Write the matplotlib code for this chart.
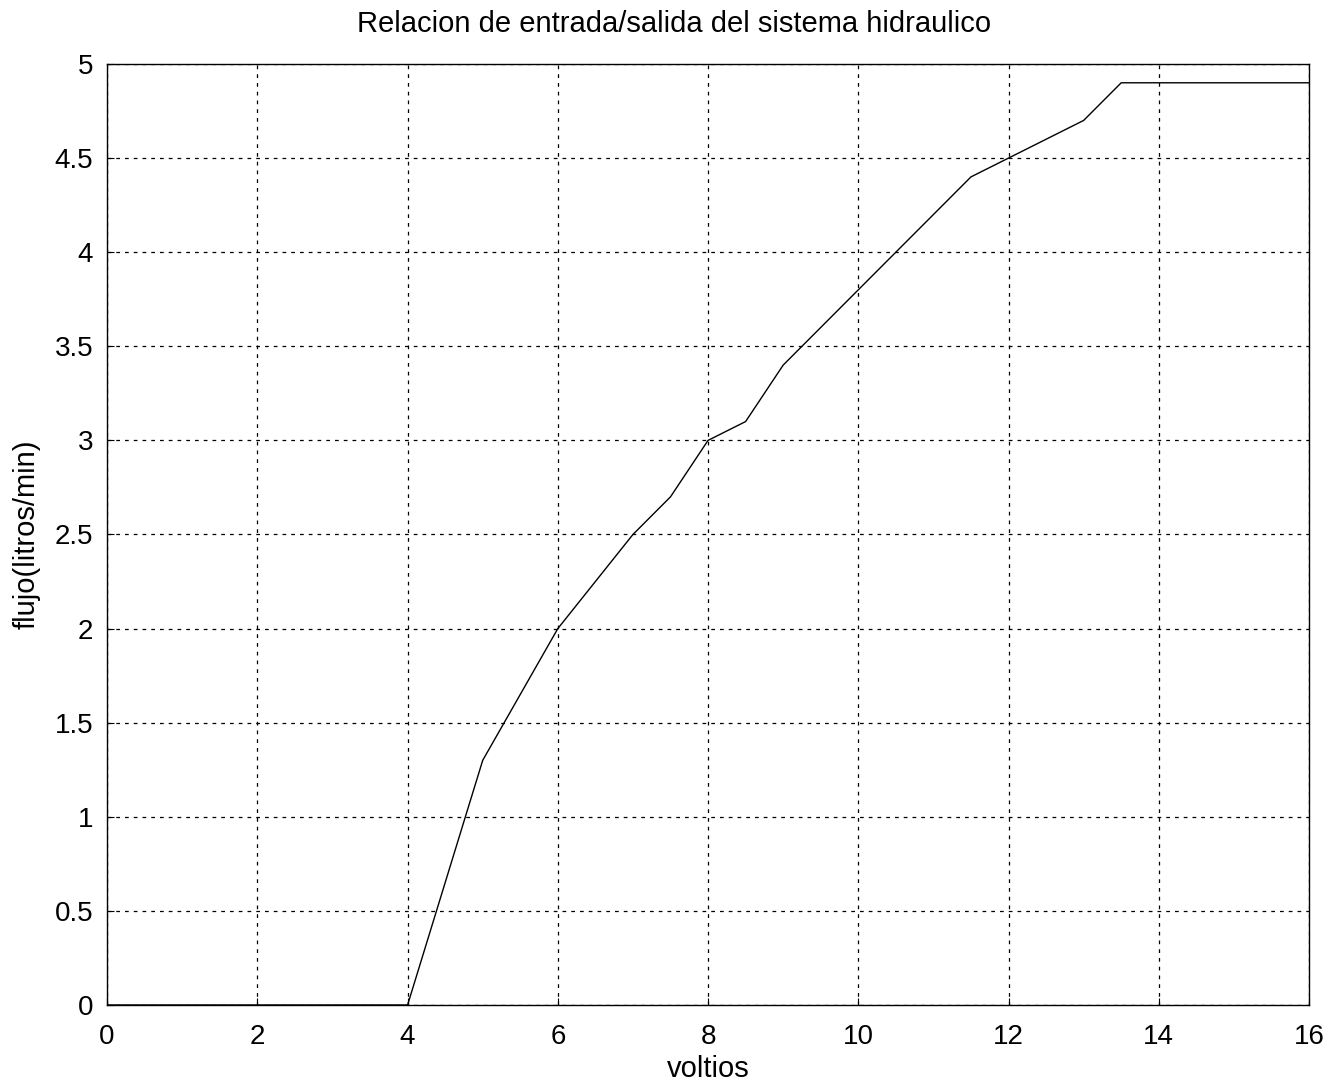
import numpy as np
import matplotlib.pyplot as plt

plt.rcParams['font.family'] = ['Liberation Sans', 'DejaVu Sans']

# data
voltios = [0, 1, 2, 3, 4, 5, 5.4, 6, 6.5, 7, 7.5, 8, 8.5, 9, 10, 10.5, 11, 11.5, 12, 12.5, 13, 13.5, 16]
flujo = [0, 0, 0, 0, 0, 1.3, 1.58, 2.0, 2.25, 2.5, 2.7, 3.0, 3.1, 3.4, 3.8, 4.0, 4.2, 4.4, 4.5, 4.6, 4.7, 4.9, 4.9]

xticks = np.arange(0, 17, 2)
yticks = np.arange(0, 5.01, 0.5)
yticklabels = ['0', '0.5', '1', '1.5', '2', '2.5', '3', '3.5', '4', '4.5', '5']

fig = plt.figure(figsize=(13.39, 10.86), dpi=100)
ax = fig.add_axes([0.080, 0.0746, 0.8976, 0.8665])

ax.plot(voltios, flujo, color='black', lw=1.0)

ax.set_xlim(0, 16)
ax.set_ylim(0, 5)
ax.set_xticks(xticks)
ax.set_yticks(yticks)
ax.set_yticklabels(yticklabels)
ax.tick_params(direction='in', labelsize=20, length=5, width=0.8)
ax.tick_params(axis='x', pad=14)
ax.tick_params(axis='y', pad=10)

ax.grid(True, color='black', linestyle=(0, (3, 4)), linewidth=0.9)
for s in ax.spines.values():
    s.set_linewidth(1.0)

ax.set_title('Relacion de entrada/salida del sistema hidraulico', fontsize=21, pad=23, x=0.472)
ax.set_xlabel('voltios', fontsize=21, labelpad=3)
ax.set_ylabel('flujo(litros/min)', fontsize=21, labelpad=10)

plt.savefig('out.png', dpi=100)
